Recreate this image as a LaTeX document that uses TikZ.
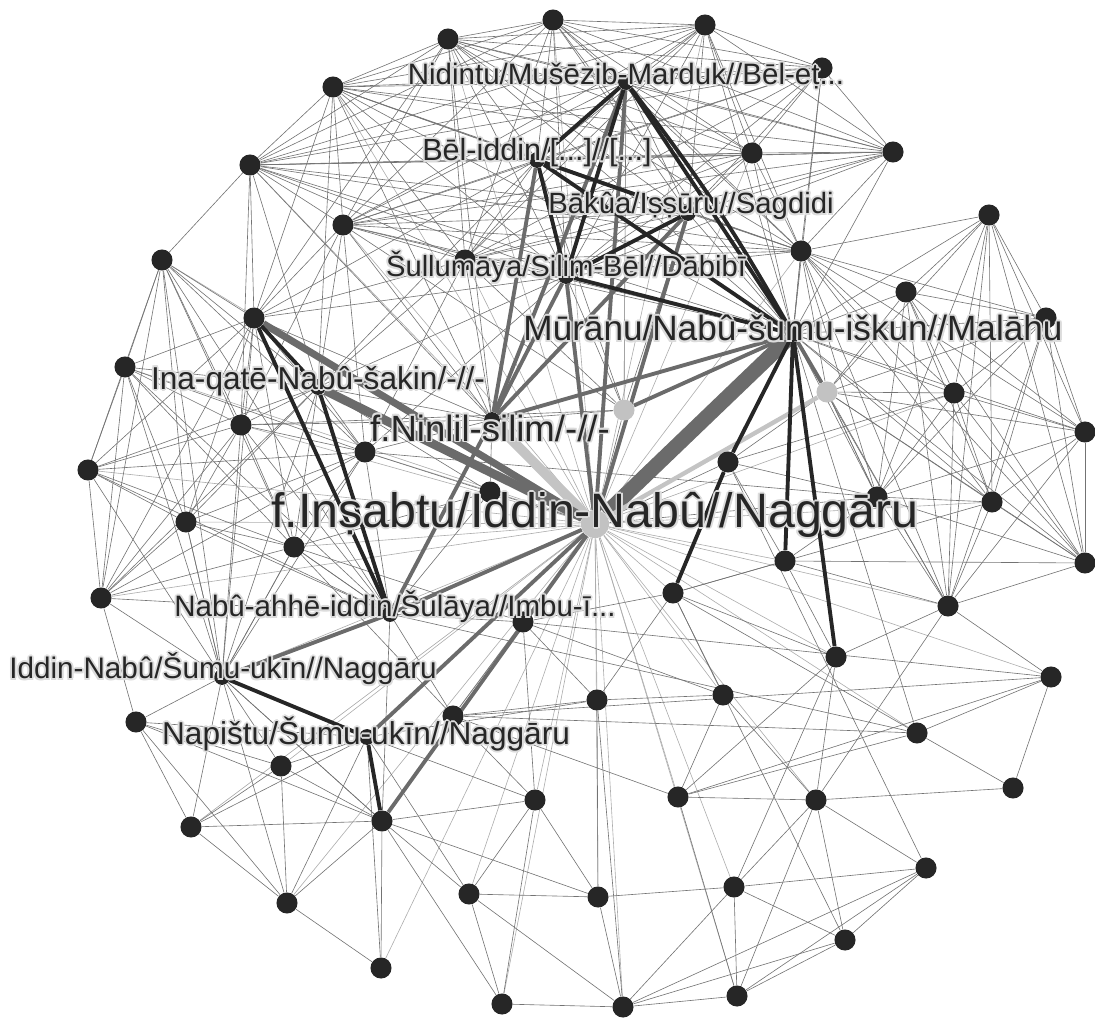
\documentclass[tikz,border=0pt]{standalone}
\usepackage{fontspec}
\setmainfont{Liberation Sans}
\usetikzlibrary{backgrounds}

\definecolor{dotc}{HTML}{262626}
\definecolor{paledot}{HTML}{C2C2C2}
\definecolor{darkedge}{HTML}{262626}
\definecolor{midedge}{HTML}{6B6B6B}
\definecolor{lightedge}{HTML}{C4C4C4}
\definecolor{haloc}{HTML}{DCDCDC}

\pgfdeclarelayer{thinlayer}
\pgfdeclarelayer{thicklayer}
\pgfsetlayers{thinlayer,thicklayer,main}

% name, position, size, text
\newcommand{\netlabel}[4]{%
  \foreach \hx/\hy in {1.1/0,-1.1/0,0/1.1,0/-1.1,.8/.8,-.8/.8,.8/-.8,-.8/-.8}
    \node[font=\fontsize{#3}{#3}\selectfont, text=haloc, inner sep=0pt, xshift=\hx pt, yshift=\hy pt] at (#2) {#4};
  \node[font=\fontsize{#3}{#3}\selectfont, text=dotc, inner sep=0pt] (#1) at (#2) {#4};
}

\def\topset{t1,t2,t3,t4,t5,nid,t6,t7,t8,bel,t9,t10,bak,sul,t11,mur}
\def\leftset{l1,l2,l3,ina,l4,l5,l6,l7,l8,l9,nab,idn}
\def\rightset{mur,t11,g2,r1,r2,r3,r4,r5,r6,r7,r8,r9}
\def\lowset{idn,l11,nap,l13,l14,l15,l16}

\begin{document}
\begin{tikzpicture}[x=0.02cm, y=-0.02cm,
  dot/.style={circle, fill=dotc, inner sep=0pt, minimum size=12pt},
  hub/.style={circle, fill=dotc, inner sep=0pt, minimum size=9pt},
  pale/.style={circle, fill=paledot, inner sep=0pt, minimum size=12pt},
  thinedge/.style={draw=black!55, line width=0.35pt},
  spoke/.style={draw=black!32, line width=0.35pt},
  bk/.style={draw=darkedge, line width=2.2pt},
  dg/.style={draw=midedge, line width=#1}, dg/.default=2.2pt,
  lg/.style={draw=lightedge, line width=#1}, lg/.default=2.2pt]
\useasboundingbox (0,0) rectangle (1095,1020);

% people
\foreach \n/\x/\y in {t1/553/20, t2/448/39, t3/705/25, t4/333/87, t5/822/68,
    t6/250/165, t7/752/153, t8/893/152, t9/343/225, t10/465/260, t11/801/251,
    r1/989/215, r2/906/292, r3/1046/318, r4/954/393, r5/1085/432, r6/877/497,
    r7/992/502, r8/1085/563, r9/948/606,
    m1/728/462, m2/490/492, m3/785/561, m4/673/593, m5/836/657,
    l1/162/260, l2/254/318, l3/125/367, l4/241/425, l5/365/452, l6/88/470,
    l7/186/522, l8/294/547, l9/101/598, l10/523/622, l11/136/722, l12/453/716,
    l13/281/766, l14/191/827, l15/382/821, l16/287/903, l17/381/968,
    b1/597/700, b2/723/695, b3/535/800, b4/678/797, b5/816/800, b6/917/733,
    b7/1051/677, b8/1013/788, b9/926/868, b10/734/887, b11/469/894,
    b12/598/897, b13/845/940, b14/502/1004, b15/623/1007, b16/737/996}
  \node[dot] (\n) at (\x,\y) {};

\foreach \n/\x/\y in {nid/626/82, bel/537/160, bak/688/213, sul/566/276,
    mur/793/334, ina/318/387, fni/492/420, nab/390/614, idn/222/677, nap/367/737}
  \node[hub] (\n) at (\x,\y) {};
\node[pale, minimum size=16pt] (cen) at (595,524) {};
\node[pale] (g1) at (624,410) {};
\node[pale] (g2) at (827,392) {};

% thin ties
\begin{pgfonlayer}{thinlayer}
\foreach \a in {t1,t2,t3,t4,t6,t7,t9,t10,t11,l1,l3,l4,l5,l6,l7,l8,l9,l10,l12,
    l13,l14,l15,l16,l17,b1,b2,b3,b4,b5,b6,b7,b10,b11,b12,b14,b15,b16,
    m3,m4,m5,r4,r7,r9,idn,nap}
  \draw[spoke] (cen) -- (\a);
\foreach \u [count=\i] in \topset
  \foreach \v [count=\j] in \topset
    {\ifnum\i<\j \draw[thinedge] (\u) -- (\v); \fi}
\foreach \u [count=\i] in \leftset
  \foreach \v [count=\j] in \leftset
    {\ifnum\i<\j \draw[thinedge] (\u) -- (\v); \fi}
\foreach \u [count=\i] in \rightset
  \foreach \v [count=\j] in \rightset
    {\ifnum\i<\j \draw[thinedge] (\u) -- (\v); \fi}
\foreach \u [count=\i] in \lowset
  \foreach \v [count=\j] in \lowset
    {\ifnum\i<\j \draw[thinedge] (\u) -- (\v); \fi}
\foreach \a/\b in {t6/l1, t6/l2, t6/ina, t6/l4, t6/fni, t4/l2, t4/ina, t4/fni,
    t9/l2, t9/ina, t9/l4, t9/l5, t9/fni, t10/ina, t10/l2, t10/fni, t10/l5,
    t2/l2, t2/fni, bel/l2, bel/ina, sul/l2, sul/ina, sul/l5, fni/l5, fni/ina,
    fni/l4, fni/l2, fni/m2, m2/l5, m2/l8, m2/nab, m2/ina, m2/cen, g1/t10,
    g1/sul, g1/bel, g1/fni, g1/nid, g1/bak, g1/t9, g1/cen, m1/g2, m1/r6,
    m1/m3, m1/cen, m1/r4, m3/r6, m3/m4, m3/m5, m3/r8, m3/r9, m4/m5, m4/l10,
    m4/b2, m4/b1, m4/r7, m5/r9, m5/b4, m5/b5, m5/b10, r9/b5, r9/b7, r6/cen,
    l10/b1, l10/b3, l10/l12, l10/b2, l10/b7, l10/nab, l5/r6, l4/g1, l8/nab,
    l8/l10, l8/l12, nab/l12, nab/l15, nab/b6, idn/l15, nap/b3, nap/l17,
    nap/b11, nap/b1, l15/l17, l15/b3, l15/b11, l15/b14, l15/b12, l12/b1,
    l12/b3, l12/b4, l12/b7, l12/b6, l16/l17, l9/l11, l7/idn, l8/idn,
    b1/b2, b1/b12, b1/b15, b2/b4, b2/b5, b7/b6, b7/b8, b7/b4, b6/b4, b6/b8,
    b4/b5, b5/b8, b5/b9, b5/b10, b5/b16, b5/b13, b10/b9, b10/b13, b10/b16,
    b10/b15, b10/b12, b9/b16, b9/b15, b9/b13, b13/b16, b13/b15, b16/b15,
    b4/b16, b11/b12, b11/b15, b11/b14, b3/b11, b3/b14, b3/b12, b12/b15,
    b14/b15, m4/b13, m1/b9, m4/b6, mur/b6, g2/r6}
  \draw[thinedge] (\a) -- (\b);
\end{pgfonlayer}

% strong ties
\begin{pgfonlayer}{thicklayer}
\draw[dg=8.5pt] (cen) -- (mur);
\draw[lg=5.5pt] (fni) -- (cen);
\draw[dg=5pt] (ina) -- (cen);
\draw[dg=4pt] (l2) -- (cen);
\draw[lg=2.5pt] (g2) -- (cen);
\foreach \a/\b in {mur/g2, fni/mur, g1/mur, fni/bel, fni/sul, fni/bak,
    cen/nid, cen/sul, cen/bak, nab/cen, nab/fni, nab/idn, nap/cen, l15/cen, fni/nid}
  \draw[dg] (\a) -- (\b);
\foreach \a/\b in {nid/bel, nid/sul, nid/mur, bel/sul, bel/bak, bel/mur,
    sul/bak, sul/mur, mur/m1, m1/m4, mur/m3, mur/m5, l2/ina, l2/nab,
    ina/nab, idn/nap, nap/l15}
  \draw[bk] (\a) -- (\b);
\draw[bk] (nid) to[bend left=4] (mur);
\end{pgfonlayer}

% names
\netlabel{lnid}{626,76}{16.8pt}{Nidintu/Mušēzib-Marduk//Bēl-eṭ...}
\netlabel{lbel}{537,153}{17.4pt}{Bēl-iddin/[...]//[...]}
\netlabel{lbak}{691,206}{16.7pt}{Bākûa/Iṣṣūru//Sagdidi}
\netlabel{lsul}{566,267}{16.6pt}{Šullumāya/Silim-Bēl//Dābibī}
\netlabel{lmur}{793,328}{20pt}{Mūrānu/Nabû-šumu-iškun//Malāhu}
\netlabel{lina}{318,381}{18pt}{Ina-qatē-Nabû-šakin/-//-}
\netlabel{lfni}{490,428}{20.8pt}{f.Ninlil-silim/-//-}
\netlabel{lcen}{595,515}{27.5pt}{f.Inṣabtu/Iddin-Nabû//Naggāru}
\netlabel{lnab}{395,607}{16.8pt}{Nabû-ahhē-iddin/Šulāya//Imbu-ī...}
\netlabel{lidn}{223,669}{16.9pt}{Iddin-Nabû/Šumu-ukīn//Naggāru}
\netlabel{lnap}{366,734}{18pt}{Napištu/Šumu-ukīn//Naggāru}

\end{tikzpicture}
\end{document}
